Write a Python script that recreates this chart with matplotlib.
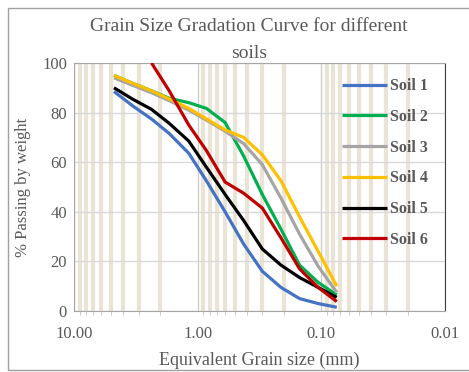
import numpy as np
import matplotlib.pyplot as plt
from matplotlib.ticker import LogLocator, FuncFormatter, NullFormatter
from matplotlib.patches import Rectangle

# sieve sizes (mm) and % passing
sieve = [4.75, 3.35, 2.36, 1.7, 1.18, 0.85, 0.6, 0.425, 0.3, 0.212, 0.15, 0.106, 0.075]
soil1 = [88.5, 82.7, 77.4, 71.6, 63.6, 52.5, 40, 27, 16, 9.5, 5, 3, 1.5]
soil2 = [95, 91.8, 88.8, 85.8, 84, 81.7, 76, 62.5, 47, 33, 18.5, 11.5, 6.5]
soil3 = [94, 91, 88, 84.8, 81, 77, 72.5, 67.5, 59, 45.5, 31, 18, 7.5]
soil4 = [95, 91.8, 88.8, 85.5, 81.7, 77.5, 73, 70, 63, 52.5, 38, 24, 10]
soil5 = [90, 85.4, 81.3, 75.7, 68.5, 58, 47, 36.5, 25, 18.5, 13.5, 9.5, 5.5]
soil6 = [np.nan, np.nan, 100, 88.8, 75, 64.7, 52, 47.5, 41.5, 29.5, 17, 9.5, 3.8]

labels = ["Soil 1", "Soil 2", "Soil 3", "Soil 4", "Soil 5", "Soil 6"]
colors = ["#4472C4", "#00B050", "#A5A5A5", "#FFC000", "#000000", "#C00000"]

plt.rcParams['font.family'] = ['Liberation Serif', 'DejaVu Serif']

fig = plt.figure(figsize=(4.69, 3.72), dpi=100)
ax = fig.add_axes([74 / 469, 1 - 311 / 372, (445 - 74) / 469, (311 - 63) / 372])

for vals, lab, col in zip([soil1, soil2, soil3, soil4, soil5, soil6], labels, colors):
    ax.plot(sieve, vals, color=col, lw=2.3, label=lab, solid_joinstyle='round',
            solid_capstyle='butt', zorder=3)

ax.set_xscale('log')
ax.set_xlim(10, 0.01)
ax.set_ylim(0, 100)
ax.set_yticks([0, 20, 40, 60, 80, 100])

ax.xaxis.set_major_locator(LogLocator(base=10))
ax.xaxis.set_minor_locator(LogLocator(base=10, subs=np.arange(2, 10)))
ax.xaxis.set_major_formatter(FuncFormatter(lambda v, p: f"{v:.2f}"))
ax.xaxis.set_minor_formatter(NullFormatter())

ax.grid(True, which='minor', axis='x', color='#EAE4D6', lw=3.0, zorder=0)
ax.grid(True, which='major', axis='x', color='#CFCFCF', lw=1.0, zorder=1)
ax.grid(True, which='major', axis='y', color='#D9D9D9', lw=1.0, zorder=1)
ax.set_axisbelow(True)

ax.tick_params(axis='x', which='major', length=0, labelsize=12, labelcolor='#595959', pad=11)
ax.tick_params(axis='x', which='minor', length=3, color='#BFBFBF', direction='out')
ax.tick_params(axis='y', length=0, labelsize=12, labelcolor='#595959', pad=5)

for side in ['left', 'bottom', 'top']:
    ax.spines[side].set_color('#A6A6A6')
ax.spines['right'].set_color('#404040')

ax.set_xlabel("Equivalent Grain size (mm)", fontsize=13, color='#595959', labelpad=7)
ax.set_ylabel("% Passing by weight", fontsize=12, color='#595959', labelpad=8)

fig.text(249 / 469, 1 - 31 / 372, "Grain Size Gradation Curve for different",
         ha='center', va='baseline', fontsize=14, color='#595959')
fig.text(249 / 469, 1 - 58 / 372, "soils",
         ha='center', va='baseline', fontsize=14, color='#595959')

leg = ax.legend(loc='upper left', bbox_to_anchor=(336 / 469, 1 - 72 / 372),
                bbox_transform=fig.transFigure, frameon=False, handlelength=2.8,
                handletextpad=0.2, labelspacing=0.92, borderaxespad=0,
                prop={'weight': 'bold', 'size': 11.5})
for t in leg.get_texts():
    t.set_color('#595959')
for h in leg.get_lines():
    h.set_linewidth(2.3)

fig.patches.append(Rectangle((8 / 469, 2 / 372), 1, 1 - 10 / 372, transform=fig.transFigure,
                             fill=False, edgecolor='#A0A0A0', lw=1.0))

fig.savefig("out.png", dpi=100)
